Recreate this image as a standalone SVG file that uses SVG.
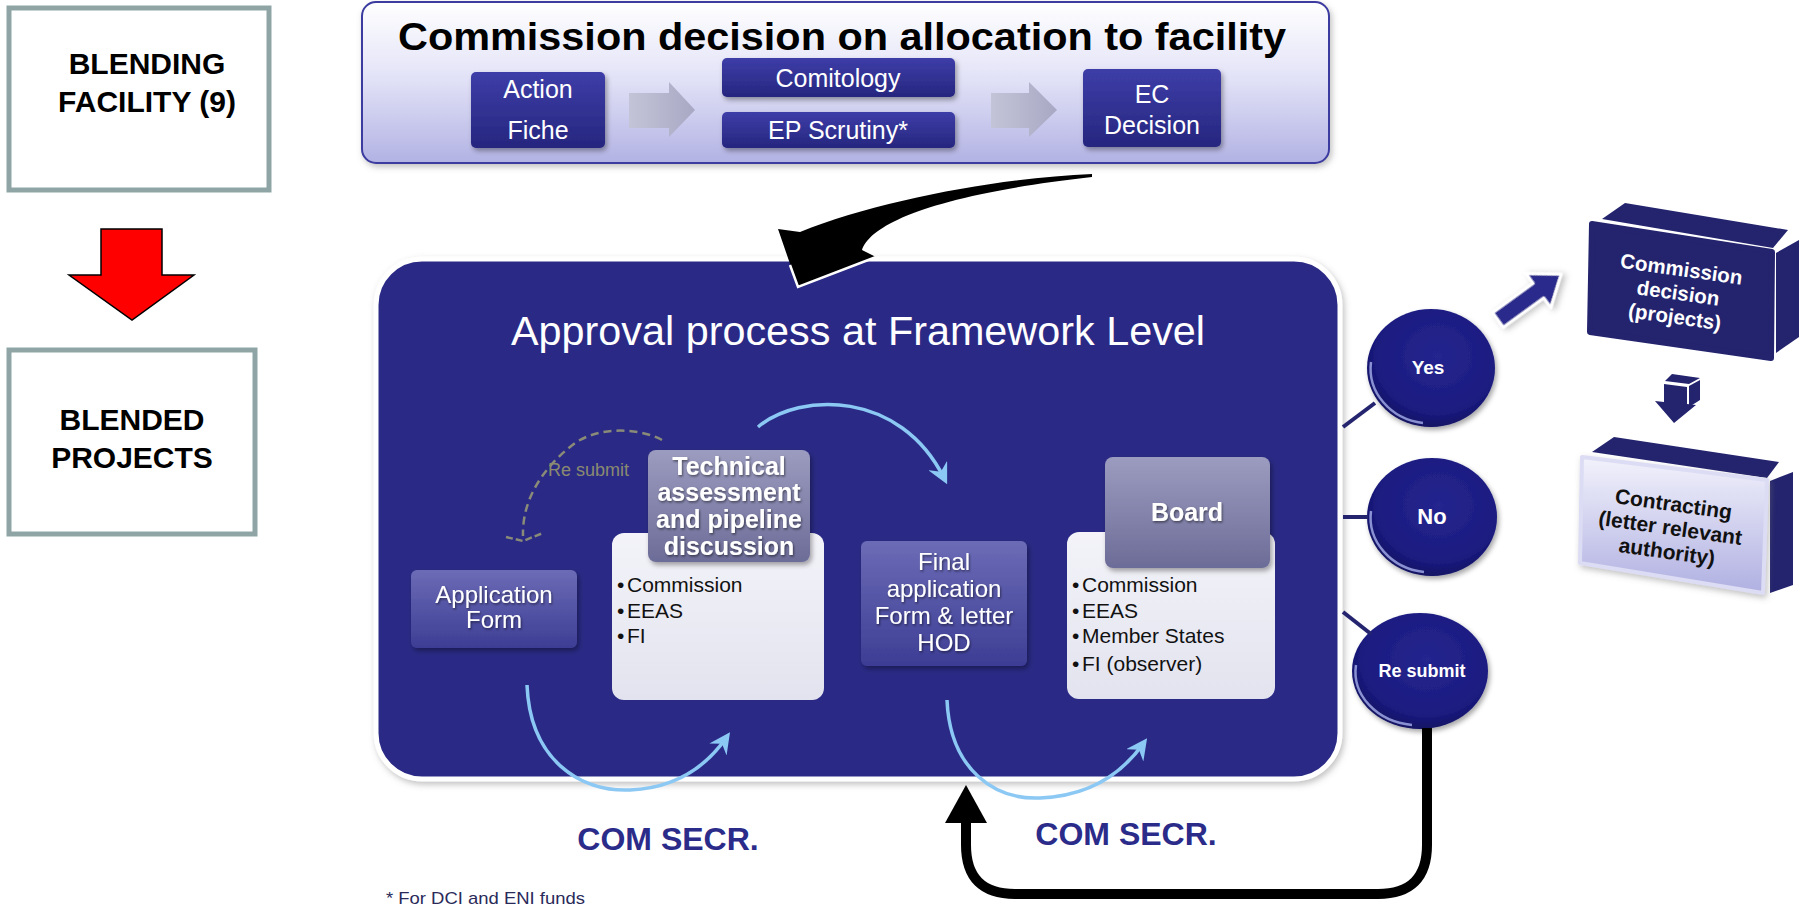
<svg xmlns="http://www.w3.org/2000/svg" width="1807" height="908" viewBox="0 0 1807 908">
<defs>
  <linearGradient id="gTop" x1="0" y1="0" x2="0" y2="1">
    <stop offset="0" stop-color="#ffffff"/><stop offset="0.45" stop-color="#e4e4f8"/><stop offset="1" stop-color="#b2b2e4"/>
  </linearGradient>
  <linearGradient id="gNavy" x1="0" y1="0" x2="0" y2="1">
    <stop offset="0" stop-color="#3d3da8"/><stop offset="1" stop-color="#26267f"/>
  </linearGradient>
  <linearGradient id="gPurple" x1="0" y1="0" x2="0" y2="1">
    <stop offset="0" stop-color="#6b6bb6"/><stop offset="1" stop-color="#3d3d95"/>
  </linearGradient>
  <linearGradient id="gGray" x1="0" y1="0" x2="0" y2="1">
    <stop offset="0" stop-color="#9c9cc0"/><stop offset="1" stop-color="#6c6c98"/>
  </linearGradient>
  <linearGradient id="gWhite" x1="0" y1="0" x2="0" y2="1">
    <stop offset="0" stop-color="#f3f3f9"/><stop offset="1" stop-color="#e3e3ef"/>
  </linearGradient>
  <linearGradient id="gArrow" x1="0" y1="0" x2="1" y2="0">
    <stop offset="0" stop-color="#c4c4d8"/><stop offset="1" stop-color="#a8a8c4"/>
  </linearGradient>
  <linearGradient id="gContract" x1="0" y1="0" x2="0" y2="1">
    <stop offset="0" stop-color="#f2f2fc"/><stop offset="1" stop-color="#b0b0e2"/>
  </linearGradient>
  <radialGradient id="gBtn" cx="0.55" cy="0.4" r="0.6">
    <stop offset="0" stop-color="#25258f"/><stop offset="0.8" stop-color="#1b1b80"/><stop offset="1" stop-color="#121264"/>
  </radialGradient>
  <filter id="sh" x="-10%" y="-10%" width="125%" height="130%">
    <feDropShadow dx="2" dy="3" stdDeviation="2.5" flood-color="#000" flood-opacity="0.35"/>
  </filter>
  <filter id="shLight" x="-10%" y="-10%" width="125%" height="130%">
    <feDropShadow dx="2" dy="3" stdDeviation="3" flood-color="#777" flood-opacity="0.45"/>
  </filter>
  <filter id="tsh" x="-10%" y="-20%" width="120%" height="150%">
    <feDropShadow dx="1" dy="1.5" stdDeviation="1" flood-color="#000" flood-opacity="0.5"/>
  </filter>
  <marker id="bh" viewBox="0 0 12 12" refX="8" refY="6" markerWidth="6" markerHeight="6" orient="auto" markerUnits="strokeWidth">
    <path d="M0,0 L12,6 L0,12 L4,6 z" fill="#8cc8f4"/>
  </marker>
</defs>
<style>
  text{font-family:"Liberation Sans",Arial,sans-serif}
  .side{fill:#fff;stroke:#8fa5a5;stroke-width:5}
  .sideT{font-size:30px;font-weight:bold;fill:#000;text-anchor:middle}
  .topT{font-size:25px;fill:#fff;text-anchor:middle}
  .wT{font-size:24px;fill:#fff;text-anchor:middle}
  .hT{font-size:25px;font-weight:bold;fill:#fff;text-anchor:middle}
  .bul{font-size:21px;fill:#111}
  .btnT{font-weight:bold;fill:#fff;text-anchor:middle}
  .com{font-size:32px;font-weight:bold;fill:#2b2b8a;text-anchor:middle}
  .navy{fill:#23236e}
  .arc{fill:none;stroke:#8cc8f4;stroke-width:3.5;marker-end:url(#bh)}
  .lnk{stroke:#24246f;stroke-width:4}
</style>

<!-- left side boxes -->
<g id="blending-facility">
  <rect class="side" x="9" y="8" width="260" height="182"/>
  <text class="sideT" x="147" y="74">BLENDING</text>
  <text class="sideT" x="147" y="112">FACILITY (9)</text>
</g>
<g id="blended-projects">
  <rect class="side" x="9" y="350" width="246" height="184"/>
  <text class="sideT" x="132" y="430">BLENDED</text>
  <text class="sideT" x="132" y="468">PROJECTS</text>
</g>

<!-- top box -->
<g id="commission-allocation">
  <rect x="362" y="2" width="967" height="161" rx="14" fill="url(#gTop)" stroke="#3a3aa0" stroke-width="2" filter="url(#shLight)"/>
  <text x="842" y="50" font-size="38" font-weight="bold" fill="#000" text-anchor="middle" textLength="888" lengthAdjust="spacingAndGlyphs">Commission decision on allocation to facility</text>
</g>
<g id="action-fiche">
  <rect x="471" y="72" width="134" height="76" rx="5" fill="url(#gNavy)" filter="url(#sh)"/>
  <text class="topT" x="538" y="98">Action</text>
  <text class="topT" x="538" y="139">Fiche</text>
</g>
<g id="comitology">
  <rect x="722" y="58" width="233" height="39" rx="5" fill="url(#gNavy)" filter="url(#sh)"/>
  <text class="topT" x="838" y="87">Comitology</text>
</g>
<g id="ep-scrutiny">
  <rect x="722" y="112" width="233" height="36" rx="5" fill="url(#gNavy)" filter="url(#sh)"/>
  <text class="topT" x="838" y="139">EP Scrutiny*</text>
</g>
<g id="ec-decision">
  <rect x="1083" y="69" width="138" height="78" rx="5" fill="url(#gNavy)" filter="url(#sh)"/>
  <text class="topT" x="1152" y="103">EC</text>
  <text class="topT" x="1152" y="134">Decision</text>
</g>

<!-- main panel -->
<g id="approval-panel">
  <rect x="376" y="259" width="964" height="520" rx="46" fill="#2b2b86" stroke="#fff" stroke-width="5" filter="url(#shLight)"/>
  <text x="858" y="345" font-size="40" fill="#fff" text-anchor="middle" textLength="694" lengthAdjust="spacingAndGlyphs">Approval process at Framework Level</text>
</g>
<g id="application-form">
  <rect x="411" y="570" width="166" height="78" rx="6" fill="url(#gPurple)" filter="url(#sh)"/>
  <text class="wT" x="494" y="603" filter="url(#tsh)">Application</text>
  <text class="wT" x="494" y="628" filter="url(#tsh)">Form</text>
</g>
<g id="technical-assessment">
  <rect x="612" y="533" width="212" height="167" rx="12" fill="url(#gWhite)"/>
  <rect x="648" y="450" width="162" height="112" rx="8" fill="url(#gGray)" filter="url(#sh)"/>
  <text class="hT" x="729" y="475" filter="url(#tsh)">Technical</text>
  <text class="hT" x="729" y="501" filter="url(#tsh)">assessment</text>
  <text class="hT" x="729" y="528" filter="url(#tsh)">and pipeline</text>
  <text class="hT" x="729" y="555" filter="url(#tsh)">discussion</text>
  <text class="bul" x="617" y="592">•</text><text class="bul" x="627" y="592">Commission</text>
  <text class="bul" x="617" y="618">•</text><text class="bul" x="627" y="618">EEAS</text>
  <text class="bul" x="617" y="643">•</text><text class="bul" x="627" y="643">FI</text>
</g>
<g id="final-application">
  <rect x="861" y="541" width="166" height="125" rx="6" fill="url(#gPurple)" filter="url(#sh)"/>
  <text class="wT" x="944" y="570" filter="url(#tsh)">Final</text>
  <text class="wT" x="944" y="597" filter="url(#tsh)">application</text>
  <text class="wT" x="944" y="624" filter="url(#tsh)">Form &amp; letter</text>
  <text class="wT" x="944" y="651" filter="url(#tsh)">HOD</text>
</g>
<g id="board">
  <rect x="1067" y="532" width="208" height="167" rx="12" fill="url(#gWhite)"/>
  <rect x="1105" y="457" width="165" height="111" rx="8" fill="url(#gGray)" filter="url(#sh)"/>
  <text class="hT" x="1187" y="521" filter="url(#tsh)">Board</text>
  <text class="bul" x="1072" y="592">•</text><text class="bul" x="1082" y="592">Commission</text>
  <text class="bul" x="1072" y="618">•</text><text class="bul" x="1082" y="618">EEAS</text>
  <text class="bul" x="1072" y="643">•</text><text class="bul" x="1082" y="643">Member States</text>
  <text class="bul" x="1072" y="671">•</text><text class="bul" x="1082" y="671">FI (observer)</text>
</g>

<!-- decision buttons -->
<g id="yes" transform="translate(1431,368)">
  <ellipse rx="64" ry="59" fill="url(#gBtn)" filter="url(#sh)"/>
  <path d="M-8,55 A60,55 0 0 1 -60,-6" fill="none" stroke="#a8b0ec" stroke-width="2.5" opacity="0.8"/>
  <text class="btnT" x="-3" y="6" font-size="19">Yes</text>
</g>
<g id="no" transform="translate(1432,517)">
  <ellipse rx="65" ry="59" fill="url(#gBtn)" filter="url(#sh)"/>
  <path d="M-8,55 A61,55 0 0 1 -61,-6" fill="none" stroke="#a8b0ec" stroke-width="2.5" opacity="0.8"/>
  <text class="btnT" x="0" y="7" font-size="22">No</text>
</g>
<g id="re-submit" transform="translate(1420,671)">
  <ellipse rx="68" ry="58" fill="url(#gBtn)" filter="url(#sh)"/>
  <path d="M-8,54 A64,54 0 0 1 -64,-6" fill="none" stroke="#a8b0ec" stroke-width="2.5" opacity="0.8"/>
  <text class="btnT" x="2" y="6" font-size="18">Re submit</text>
</g>

<!-- 3D boxes -->
<g id="commission-decision-projects">
  <polygon class="navy" points="1602,219 1625,203 1788,230 1773,248"/>
  <polygon class="navy" points="1776,253 1799,240 1799,337 1776,353"/>
  <polygon class="navy" points="1592,224 1772,252 1771,358 1590,332" stroke="#23236e" stroke-width="6" stroke-linejoin="round"/>
  <g transform="rotate(8 1678 294)">
    <text class="btnT" x="1678" y="276" font-size="20.5">Commission</text>
    <text class="btnT" x="1678" y="300" font-size="20.5">decision</text>
    <text class="btnT" x="1678" y="324" font-size="20.5">(projects)</text>
  </g>
</g>
<g id="contracting">
  <polygon class="navy" points="1592,452 1614,437 1779,462 1767,478"/>
  <polygon class="navy" points="1770,481 1793,472 1793,585 1770,593"/>
  <polygon points="1582,457 1767,480 1763,593 1580,563" fill="url(#gContract)" stroke="#dcdcf4" stroke-width="4" stroke-linejoin="round" filter="url(#shLight)"/>
  <g transform="rotate(8 1670 530)">
    <text x="1670" y="511" font-size="21" font-weight="bold" fill="#111" text-anchor="middle">Contracting</text>
    <text x="1670" y="535" font-size="21" font-weight="bold" fill="#111" text-anchor="middle">(letter relevant</text>
    <text x="1670" y="559" font-size="21" font-weight="bold" fill="#111" text-anchor="middle">authority)</text>
  </g>
</g>

<!-- connectors -->
<g id="connectors">
  <!-- red arrow between side boxes -->
  <polygon points="101,229 162,229 162,275 194,275 132,320 69,275 101,275" fill="#ff0000" stroke="#000" stroke-width="1.5"/>
  <!-- grey arrows in top box -->
  <polygon points="629,93 669,93 669,82 695,110 669,137 669,128 629,128" fill="url(#gArrow)"/>
  <polygon points="991,93 1029,93 1029,82 1057,110 1029,137 1029,128 991,128" fill="url(#gArrow)"/>
  <!-- big black curved arrow -->
  <path d="M1092,174 C1000,178 880,200 800,232 L778,229 L798,287 L876,257 L862,250 C870,225 930,195 1092,177 Z" fill="#000"/>
  <path d="M790,265 L798,287 L876,257" fill="none" stroke="#fff" stroke-width="2.5"/>
  <!-- blue cycle arcs -->
  <path class="arc" d="M758,427 C800,392 900,390 944,478"/>
  <path class="arc" d="M527,685 C530,760 580,792 630,790 C675,788 705,768 726,738"/>
  <path class="arc" d="M947,700 C950,770 995,800 1040,798 C1088,796 1120,776 1143,744"/>
  <!-- dashed re-submit -->
  <path d="M662,440 C640,428 600,426 575,443 C542,468 522,500 523,536" fill="none" stroke="#8a8a78" stroke-width="2.5" stroke-dasharray="8,5"/>
  <polyline points="506,537 523,541 543,533" fill="none" stroke="#8a8a78" stroke-width="2.5" stroke-dasharray="7,3"/>
  <text x="548" y="476" font-size="18" fill="#8a8a70">Re submit</text>
  <!-- lines to buttons -->
  <line class="lnk" x1="1343" y1="427" x2="1375" y2="403"/>
  <line class="lnk" x1="1343" y1="517" x2="1368" y2="517"/>
  <line class="lnk" x1="1343" y1="612" x2="1371" y2="634"/>
  <!-- yes -> commission decision -->
  <polygon points="0,-9 50,-9 50,-21 78,0 50,21 50,9 0,9" transform="translate(1498,320) rotate(-36)" fill="#2c2c8c" stroke="#fff" stroke-width="3" stroke-linejoin="round" filter="url(#shLight)"/>
  <!-- small 3D down arrow -->
  <polygon class="navy" points="1665,381 1672,374 1700,378 1689,384"/>
  <polygon class="navy" points="1689,386 1700,380 1700,400 1689,407"/>
  <polygon class="navy" points="1664,384 1687,387 1687,404 1696,405 1674,423 1655,401 1664,402"/>
  <!-- black return arrow -->
  <path d="M1427,728 L1427,845 Q1427,894 1378,894 L1015,894 Q966,894 966,845 L966,820" fill="none" stroke="#000" stroke-width="10"/>
  <polygon points="945,823 987,823 966,785" fill="#000"/>
</g>

<!-- labels -->
<g id="com-secr-1"><text class="com" x="668" y="850">COM SECR.</text></g>
<g id="com-secr-2"><text class="com" x="1126" y="845">COM SECR.</text></g>
<g id="footnote"><text x="386" y="904" font-size="17" fill="#2a2a5a" textLength="199" lengthAdjust="spacingAndGlyphs">* For DCI and ENI  funds</text></g>
</svg>
